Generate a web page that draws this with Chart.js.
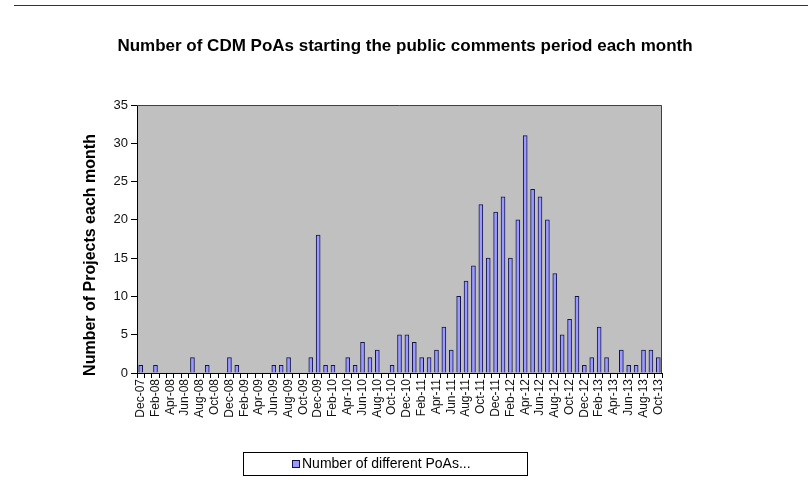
<!DOCTYPE html>
<html><head><meta charset="utf-8">
<script src="https://cdn.jsdelivr.net/npm/chart.js@4/dist/chart.umd.min.js"></script>
<style>html,body{margin:0;padding:0;background:#fff}#wrap{width:808px;height:504px}</style>
</head><body><div id="wrap"><canvas id="c" width="808" height="504"></canvas></div>
<script>
const chartTitle = "Number of CDM PoAs starting the public comments period each month";
const yAxisTitle = "Number of Projects each month";
const seriesName = "Number of different PoAs...";
const months = [
 "Dec-07","Jan-08","Feb-08","Mar-08","Apr-08","May-08","Jun-08","Jul-08","Aug-08","Sep-08","Oct-08","Nov-08",
 "Dec-08","Jan-09","Feb-09","Mar-09","Apr-09","May-09","Jun-09","Jul-09","Aug-09","Sep-09","Oct-09","Nov-09",
 "Dec-09","Jan-10","Feb-10","Mar-10","Apr-10","May-10","Jun-10","Jul-10","Aug-10","Sep-10","Oct-10","Nov-10",
 "Dec-10","Jan-11","Feb-11","Mar-11","Apr-11","May-11","Jun-11","Jul-11","Aug-11","Sep-11","Oct-11","Nov-11",
 "Dec-11","Jan-12","Feb-12","Mar-12","Apr-12","May-12","Jun-12","Jul-12","Aug-12","Sep-12","Oct-12","Nov-12",
 "Dec-12","Jan-13","Feb-13","Mar-13","Apr-13","May-13","Jun-13","Jul-13","Aug-13","Sep-13","Oct-13"
];
const poaCounts = [
 1,0,1,0,0,0,0,2,0,1,0,0,
 2,1,0,0,0,0,1,1,2,0,0,2,
 18,1,1,0,2,1,4,2,3,0,1,5,
 5,4,2,2,3,6,3,10,12,14,22,15,
 21,23,15,20,31,24,23,20,13,5,7,10,
 1,2,6,2,0,3,1,1,3,3,2
];
const yTickValues = [0,5,10,15,20,25,30,35];

const FONT = "'Liberation Sans', Arial, sans-serif";

const decor = {
  id: 'decor',
  beforeDraw(chart) {
    const {ctx, chartArea: a} = chart;
    ctx.save();
    ctx.fillStyle = '#ffffff';
    ctx.fillRect(0, 0, chart.width, chart.height);
    ctx.fillStyle = '#C0C0C0';
    ctx.fillRect(a.left, a.top, a.right - a.left, a.bottom - a.top);
    ctx.restore();
  },
  afterDraw(chart) {
    const {ctx, chartArea: a} = chart;
    ctx.save();
    // top rule line
    ctx.strokeStyle = '#333333';
    ctx.lineWidth = 1;
    ctx.beginPath(); ctx.moveTo(14, 5.5); ctx.lineTo(808, 5.5); ctx.stroke();
    // plot border top/right
    ctx.strokeStyle = '#404040';
    ctx.beginPath();
    ctx.moveTo(a.left, a.top + 0.5); ctx.lineTo(a.right - 0.5, a.top + 0.5); ctx.lineTo(a.right - 0.5, a.bottom);
    ctx.stroke();
    // title
    ctx.fillStyle = '#000';
    ctx.font = "bold 17px " + FONT;
    ctx.textAlign = 'center'; ctx.textBaseline = 'middle';
    ctx.fillText(chartTitle, 405, 46);
    // y axis title
    ctx.save();
    ctx.translate(91, 255);
    ctx.rotate(-Math.PI / 2);
    ctx.font = "bold 16px " + FONT;
    ctx.fillText(yAxisTitle, 0, 0);
    ctx.restore();
    // legend
    const bx = 243.5, by = 452.5, bw = 284, bh = 23;
    ctx.fillStyle = '#fff';
    ctx.fillRect(bx, by, bw, bh);
    ctx.strokeStyle = '#000';
    ctx.strokeRect(bx, by, bw, bh);
    const ds = chart.data.datasets[0];
    ctx.fillStyle = ds.backgroundColor;
    ctx.fillRect(293, 461, 6, 6);
    ctx.strokeStyle = ds.borderColor;
    ctx.strokeRect(292.5, 460.5, 7, 7);
    ctx.fillStyle = '#000';
    ctx.font = "14px " + FONT;
    ctx.textAlign = 'left';
    ctx.fillText(ds.label, 302, 464.5);
    ctx.restore();
  }
};

new Chart(document.getElementById('c'), {
  type: 'bar',
  data: {
    labels: months,
    datasets: [{
      label: seriesName,
      data: poaCounts,
      backgroundColor: '#9999FF',
      borderColor: '#14144a',
      borderWidth: 1,
      barThickness: 4
    }]
  },
  options: {
    responsive: false,
    animation: false,
    devicePixelRatio: 1,
    layout: { padding: { left: 0, top: 105, right: 146, bottom: 79 } },
    plugins: { legend: { display: false }, title: { display: false }, tooltip: { enabled: false } },
    scales: {
      x: {
        offset: true,
        grid: { offset: true, drawOnChartArea: false, drawTicks: true, tickLength: 5, color: '#000' },
        border: { color: '#000', width: 1 },
        ticks: {
          autoSkip: false, maxRotation: 90, minRotation: 90, padding: 1,
          color: '#111', font: { family: FONT, size: 12 },
          callback: (v, i) => (i % 2 === 0 ? months[i] : '')
        },
        afterFit: s => { s.height = 52; }
      },
      y: {
        min: 0, max: 35,
        afterBuildTicks: s => { s.ticks = yTickValues.map(v => ({ value: v })); },
        grid: { drawOnChartArea: false, drawTicks: true, tickLength: 6, color: '#000' },
        border: { color: '#000', width: 1 },
        ticks: { color: '#111', font: { family: FONT, size: 13 }, padding: 3 },
        afterFit: s => { s.width = 137; }
      }
    }
  },
  plugins: [decor]
});
</script>
</body></html>
